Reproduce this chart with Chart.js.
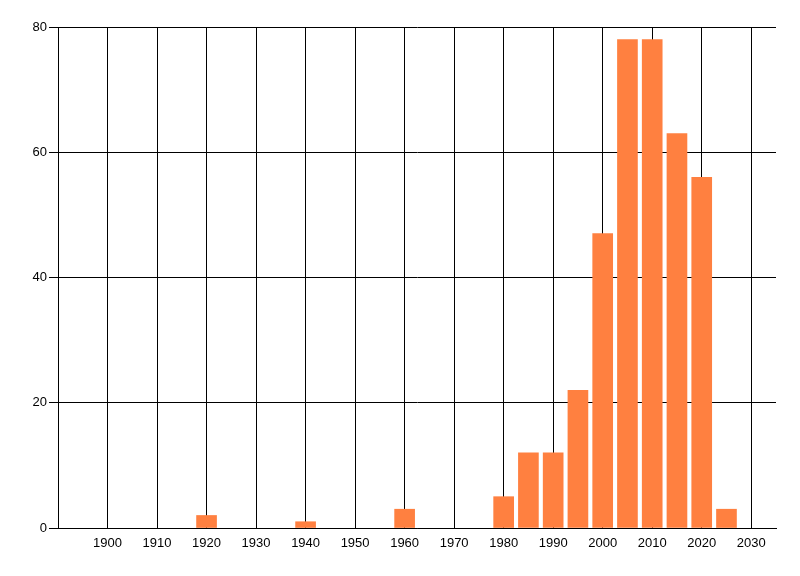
<!DOCTYPE html>
<html>
<head>
<meta charset="utf-8">
<script src="https://cdn.jsdelivr.net/npm/chart.js@4/dist/chart.umd.min.js"></script>
<style>
  html, body { margin: 0; padding: 0; background: #fff; }
  #wrap { width: 800px; height: 576px; }
</style>
</head>
<body>
<div id="wrap"><canvas id="yearChart"></canvas></div>
<script>
var years = [1920, 1940, 1960, 1980, 1985, 1990, 1995, 2000, 2005, 2010, 2015, 2020, 2025];
var counts = [2, 1, 3, 5, 12, 12, 22, 47, 78, 78, 63, 56, 3];
var xTicks = [1900, 1910, 1920, 1930, 1940, 1950, 1960, 1970, 1980, 1990, 2000, 2010, 2020, 2030];
var yTicks = [0, 20, 40, 60, 80];

function yearChart(){
    var points = years.map(function(y, i){ return {x: y, y: counts[i]}; });
    var tickFont = { family: "'Liberation Sans Narrow', 'Liberation Sans', Arial, sans-serif", size: 13 };

    new Chart("yearChart", {
        type: "bar",
        data: {
            datasets: [{
                data: points,
                backgroundColor: "#FF8040",
                borderWidth: 0,
                barThickness: 20
            }]
        },
        options: {
            responsive: true,
            maintainAspectRatio: false,
            animation: false,
            layout: { padding: { top: 27, right: 24, left: 0, bottom: 0 } },
            plugins: {
                legend: { display: false },
                title: { display: false },
                tooltip: { enabled: false }
            },
            scales: {
                x: {
                    type: "linear",
                    min: 1890,
                    max: 2035,
                    offset: false,
                    afterBuildTicks: function(scale){
                        scale.ticks = xTicks.map(function(v){ return {value: v}; });
                    },
                    afterFit: function(scale){ scale.height = 48; },
                    grid: { color: "#000", lineWidth: 1, drawTicks: false, offset: false },
                    border: { color: "#000", width: 1 },
                    ticks: { color: "#000", font: tickFont, padding: 8, maxRotation: 0, autoSkip: false,
                        callback: function(v){ return String(v); } }
                },
                y: {
                    min: 0,
                    max: 80,
                    afterBuildTicks: function(scale){
                        scale.ticks = yTicks.map(function(v){ return {value: v}; });
                    },
                    afterFit: function(scale){ scale.width = 58; },
                    grid: { color: "#000", lineWidth: 1, drawTicks: true, tickLength: 9 },
                    border: { color: "#000", width: 1 },
                    ticks: { color: "#000", font: tickFont, padding: 2 }
                }
            }
        }
    });
}

yearChart();
</script>
</body>
</html>
